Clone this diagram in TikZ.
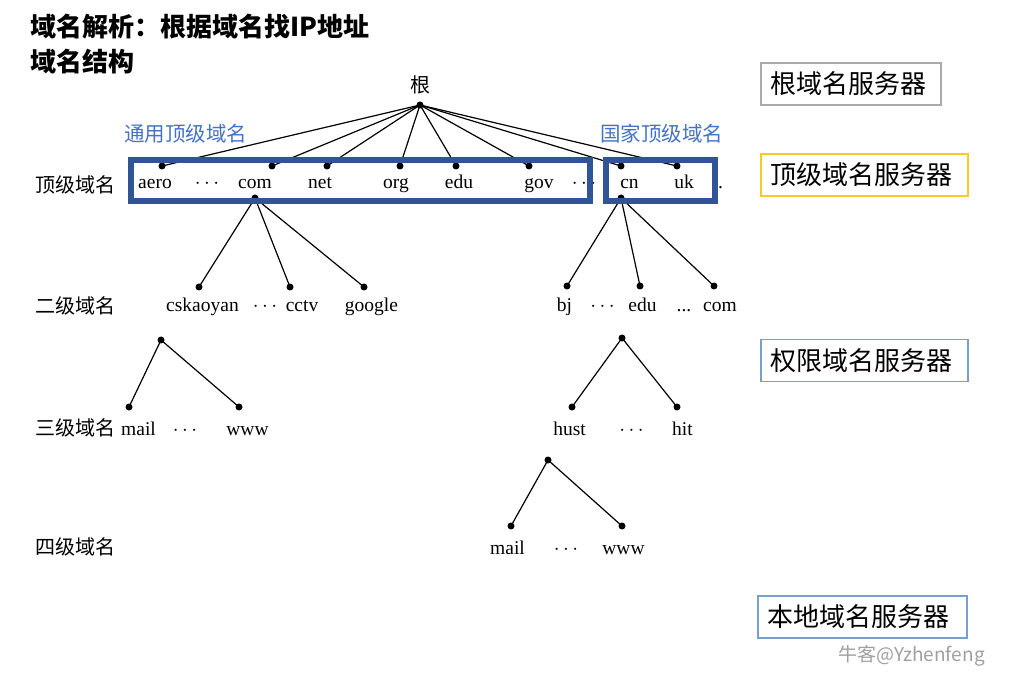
\documentclass[tikz,border=0pt]{standalone}
\usepackage{fontspec}
\setmainfont{Liberation Serif}
\newfontfamily\cjk{Noto Sans CJK SC}
\definecolor{boxblue}{RGB}{47,85,151}
\definecolor{lblue}{RGB}{68,114,196}
\definecolor{srvgray}{RGB}{170,170,170}
\definecolor{srvgold}{RGB}{255,200,40}
\definecolor{srvblue}{RGB}{120,160,205}
\definecolor{wmgray}{RGB}{160,160,160}
\begin{document}
\begin{tikzpicture}[x=1pt,y=-1pt,
  dot/.style={circle,fill=black,inner sep=0pt,minimum size=7pt},
  lbl/.style={inner sep=0pt,font=\fontsize{19.5}{22}\selectfont,anchor=base},
  lvl/.style={inner sep=0pt,font=\cjk\fontsize{20}{24}\selectfont,anchor=west},
  grp/.style={inner sep=0pt,font=\cjk\fontsize{20.5}{24}\selectfont,anchor=west,text=lblue},
  edge/.style={line width=1.2pt},
  tldbox/.style={draw=boxblue,line width=6pt},
  srv/.style={draw,line width=1.3pt,inner xsep=9pt,inner ysep=0pt,minimum height=42pt,
    font=\cjk\fontsize{26}{30}\selectfont,align=left},
  ttl/.style={inner sep=0pt,font=\cjk\bfseries\fontsize{26}{30}\selectfont,anchor=west}
]
\useasboundingbox (0,0) rectangle (1020,676);
\fill[white] (0,0) rectangle (1020,676);

% titles
\node[ttl] (t1) at (30,27) {域名解析：根据域名找IP地址};
\node[ttl] (t2) at (30,62) {域名结构};

% level labels
\node[lvl] (l1) at (35,185) {顶级域名};
\node[lvl] (l2) at (35,306) {二级域名};
\node[lvl] (l3) at (35,428) {三级域名};
\node[lvl] (l4) at (35,547) {四级域名};

% group labels
\node[grp] (g1) at (124,134) {通用顶级域名};
\node[grp] (g2) at (600,134) {国家顶级域名};

% root
\node[inner sep=0pt,font=\cjk\fontsize{20}{24}\selectfont] (rootlbl) at (420,85) {根};
\node[dot] (root) at (420,105) {};

% top-level dots
\node[dot] (aero) at (162,166) {};
\node[dot] (com) at (272,166) {};
\node[dot] (net) at (327,166) {};
\node[dot] (org) at (400,166) {};
\node[dot] (edu) at (456,166) {};
\node[dot] (gov) at (529,166) {};
\node[dot] (cn) at (621,166) {};
\node[dot] (uk) at (677,166) {};

\foreach \n in {aero,com,net,org,edu,gov,cn,uk}
  \draw[edge] (root.center) -- (\n.center);

% top-level labels
\node[lbl] (laero) at (155,189) {aero};
\node[lbl] (ld1) at (207,189) {$\cdots$};
\node[lbl] (lcom) at (255,189) {com};
\node[lbl] (lnet) at (320,189) {net};
\node[lbl] (lorg) at (396,189) {org};
\node[lbl] (ledu) at (459,189) {edu};
\node[lbl] (lgov) at (539,189) {gov};
\node[lbl] (ld2) at (584,189) {$\cdots$};
\node[lbl] (lcn) at (629.5,189) {cn};
\node[lbl] (luk) at (684,189) {uk};
\node[lbl] (ld3) at (718,189) {..};

% second level
\node[dot] (comb) at (255,198) {};
\node[dot] (cnb) at (621,198) {};
\node[dot] (csk) at (199,287) {};
\node[dot] (cctv) at (290,287) {};
\node[dot] (google) at (364,287) {};
\node[dot] (bj) at (567,286) {};
\node[dot] (edu2) at (640,286) {};
\node[dot] (com2) at (714,286) {};
\foreach \n in {csk,cctv,google} \draw[edge] (comb.center) -- (\n.center);
\foreach \n in {bj,edu2,com2} \draw[edge] (cnb.center) -- (\n.center);

\node[lbl] (lcsk) at (202.5,312) {cskaoyan};
\node[lbl] (ld4) at (265,312) {$\cdots$};
\node[lbl] (lcctv) at (302,312) {cctv};
\node[lbl] (lgoogle) at (371.5,312) {google};
\node[lbl] (lbj) at (564.5,312) {bj};
\node[lbl] (ld5) at (602.5,312) {$\cdots$};
\node[lbl] (ledu2) at (642.5,312) {edu};
\node[lbl] (ld6) at (684,312) {...};
\node[lbl] (lcom2) at (720,312) {com};

% third level
\node[dot] (cskb) at (161,340) {};
\node[dot] (mail1) at (129,407) {};
\node[dot] (www1) at (239,407) {};
\draw[edge] (cskb.center) -- (mail1.center);
\draw[edge] (cskb.center) -- (www1.center);
\node[dot] (edub) at (622,338) {};
\node[dot] (hust) at (572,407) {};
\node[dot] (hit) at (677,407) {};
\draw[edge] (edub.center) -- (hust.center);
\draw[edge] (edub.center) -- (hit.center);

\node[lbl] (lmail1) at (138.5,435) {mail};
\node[lbl] (ld7) at (185,435) {$\cdots$};
\node[lbl] (lwww1) at (247.5,435) {www};
\node[lbl] (lhust) at (569.5,435) {hust};
\node[lbl] (ld8) at (631.5,435) {$\cdots$};
\node[lbl] (lhit) at (682.5,435) {hit};

% fourth level
\node[dot] (hustb) at (548,460) {};
\node[dot] (mail2) at (511,526) {};
\node[dot] (www2) at (622,526) {};
\draw[edge] (hustb.center) -- (mail2.center);
\draw[edge] (hustb.center) -- (www2.center);
\node[lbl] (lmail2) at (507.5,554) {mail};
\node[lbl] (ld9) at (566,554) {$\cdots$};
\node[lbl] (lwww2) at (623.5,554) {www};

% top-level domain boxes
\draw[tldbox] (131,160) rectangle (590,201);
\draw[tldbox] (606,160) rectangle (715,201);

% server boxes
\node[srv,draw=srvgray,text width=162pt] (s1) at (851,84) {根域名服务器};
\node[srv,draw=srvgold,text width=189pt] (s2) at (864.5,175) {顶级域名服务器};
\node[srv,draw=srvblue,text width=189pt] (s3) at (864.5,360.5) {权限域名服务器};
\node[srv,draw=srvblue,text width=191pt] (s4) at (862.5,617) {本地域名服务器};

% watermark
\node[inner sep=0pt,anchor=west,text=wmgray,font=\cjk\fontsize{19}{22}\selectfont] (wm) at (838,656) {牛客@Yzhenfeng};
\end{tikzpicture}
\end{document}
